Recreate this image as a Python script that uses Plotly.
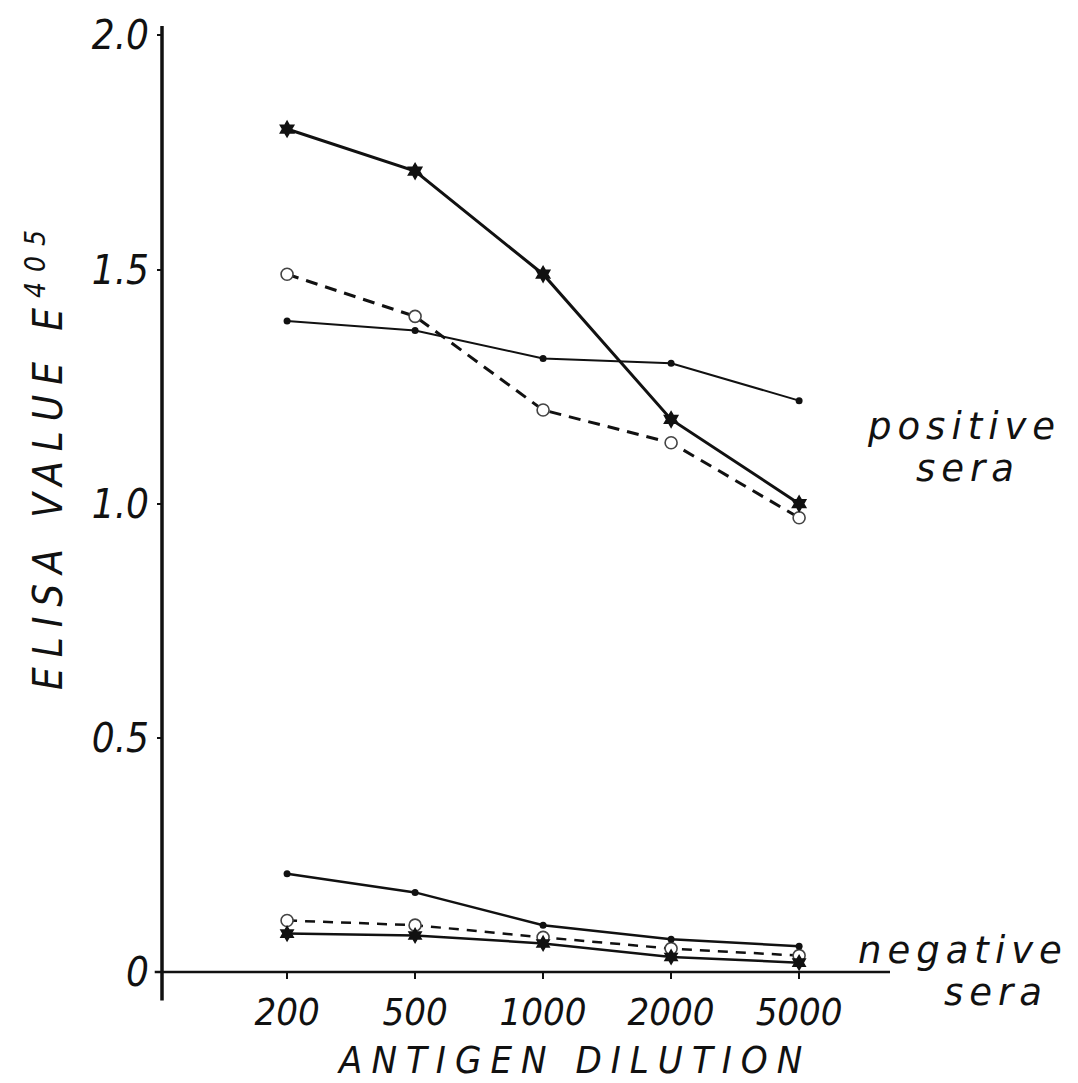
import plotly.graph_objects as go

dilutions = ["200", "500", "1000", "2000", "5000"]

pos_star = [1.80, 1.71, 1.49, 1.18, 1.00]
pos_circle = [1.49, 1.40, 1.20, 1.13, 0.97]
pos_dot = [1.39, 1.37, 1.31, 1.30, 1.22]

neg_dot = [0.21, 0.17, 0.10, 0.07, 0.055]
neg_circle = [0.11, 0.10, 0.074, 0.05, 0.035]
neg_star = [0.082, 0.078, 0.061, 0.032, 0.02]

y_tickvals = [0, 0.5, 1.0, 1.5, 2.0]
y_ticktext = ["0", "0.5", "1.0", "1.5", "2.0"]

INK = "#111111"
FONT = "DejaVu Sans Condensed"

fig = go.Figure()

def add_series(y, symbol, size, dash, width, mcolor, mline=None):
    marker = dict(symbol=symbol, size=size, color=mcolor)
    if mline:
        marker["line"] = mline
    fig.add_trace(go.Scatter(
        x=dilutions, y=y, mode="lines+markers",
        line=dict(color=INK, width=width, dash=dash),
        marker=marker, showlegend=False, cliponaxis=False,
    ))

# dashed series first
add_series(pos_circle, "circle", 12, "12px,8px", 3, "white", dict(color="#444", width=1.6))
add_series(neg_circle, "circle", 12, "10px,8px", 2.5, "white", dict(color="#444", width=1.6))
add_series(pos_dot, "circle", 7, "solid", 2, INK)
add_series(neg_dot, "circle", 7, "solid", 2.5, INK)
add_series(pos_star, "hexagram", 14, "solid", 3, INK)
add_series(neg_star, "hexagram", 13, "solid", 2.5, INK)

L, R, T, B = 162, 188, 15, 111
W, H = 1078, 1083
pw = W - L - R
ph = H - T - B

def px(x):
    return (x - L) / pw

def py(y):
    return (H - B - y) / ph

fig.update_layout(
    width=W, height=H,
    margin=dict(l=L, r=R, t=T, b=B),
    paper_bgcolor="white", plot_bgcolor="white",
    xaxis=dict(
        type="category", range=[-0.977, 4.71],
        showgrid=False, zeroline=False, showline=False,
        ticks="outside", ticklen=6, tickwidth=2, tickcolor=INK,
        tickfont=dict(family=FONT, size=38, color=INK, style="italic"),
    ),
    yaxis=dict(
        range=[0, 2.02], tickvals=y_tickvals, ticktext=y_ticktext,
        showgrid=False, zeroline=False, showline=False,
        ticks="outside", ticklen=4, tickwidth=2, tickcolor=INK,
        tickfont=dict(family=FONT, size=40, color=INK, style="italic"),
    ),
    shapes=[
        dict(type="line", xref="paper", yref="paper", x0=0, x1=0, y0=-0.03, y1=1.0,
             line=dict(color=INK, width=3.5)),
        dict(type="line", xref="paper", yref="paper", x0=-0.01, x1=1.0, y0=0, y1=0,
             line=dict(color=INK, width=2.5)),
    ],
)

ann_font = dict(family=FONT, size=38, color=INK, style="italic")
lab_font = dict(family="DejaVu Sans", size=37, color=INK, style="italic")
fig.add_annotation(text="ELISA VALUE E<sup>405</sup>", xref="paper", yref="paper",
                   x=px(45), y=py(449), textangle=-90, showarrow=False,
                   xanchor="center", yanchor="middle",
                   font=dict(family=FONT, size=40, color=INK, style="italic"))
fig.add_annotation(text="ANTIGEN DILUTION", xref="paper", yref="paper",
                   x=px(574), y=py(1061), showarrow=False,
                   xanchor="center", yanchor="middle", font=ann_font)
fig.add_annotation(text="positive", xref="paper", yref="paper",
                   x=px(964), y=py(420), showarrow=False,
                   xanchor="center", yanchor="middle", font=lab_font)
fig.add_annotation(text="sera", xref="paper", yref="paper",
                   x=px(968), y=py(463), showarrow=False,
                   xanchor="center", yanchor="middle", font=lab_font)
fig.add_annotation(text="negative", xref="paper", yref="paper",
                   x=px(963), y=py(950), showarrow=False,
                   xanchor="center", yanchor="middle", font=lab_font)
fig.add_annotation(text="sera", xref="paper", yref="paper",
                   x=px(996), y=py(993), showarrow=False,
                   xanchor="center", yanchor="middle", font=lab_font)

post = """
var sp = ['10px', '9px', '6px', '6px', '6px', '6px'];
document.querySelectorAll('.annotation-text').forEach(function(e, i){
  e.style.letterSpacing = sp[i] || '6px';
});
"""

fig.write_html("out.html", post_script=post)
